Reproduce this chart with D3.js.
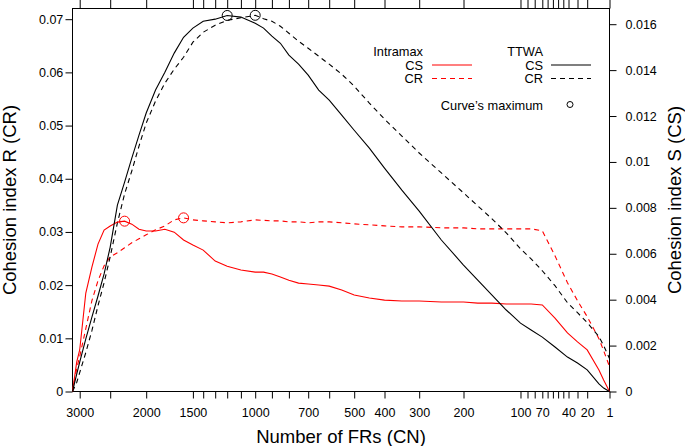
<!DOCTYPE html>
<html><head><meta charset="utf-8">
<script src="https://cdn.jsdelivr.net/npm/d3@7"></script>
<style>
body{margin:0;background:#fff}
text{font-family:"Liberation Sans",Arial,Helvetica,sans-serif;fill:#000}
</style>
</head><body>
<svg id="chart" width="685" height="446"></svg>
<script>
// ---- axis ticks ----
const xTickValues = [3000,2500,2000,1500,1400,1300,1200,1100,1000,900,800,700,600,500,400,300,200,100,90,80,70,60,55,50,45,40,30,20,1];
const xTickLabels = [3000,2000,1500,1000,700,500,400,300,200,100,70,40,20,1];
const yRTicks = [0,0.01,0.02,0.03,0.04,0.05,0.06,0.07];
const ySTicks = [0,0.002,0.004,0.006,0.008,0.01,0.012,0.014,0.016];
// non-uniform x axis: anchor values and their relative position along the axis
const xWarpN    = [3120,3000,2500,2000,1500,1400,1300,1200,1100,1000,900,800,700,600,500,400,300,200,100,90,80,70,60,55,50,45,40,30,20,1];
const xWarpFrac = [0,0.01341,0.07020,0.13724,0.22421,0.24339,0.26574,0.28808,0.31359,0.34022,0.37132,0.40298,0.43892,0.47803,0.52458,0.58101,0.64562,0.72812,0.83426,0.84730,0.86071,0.87486,0.88473,0.89460,0.90428,0.91397,0.92365,0.94041,0.95847,1];

// ---- data: number of FRs (CN) ----
const sampleN = [3120,3050,3000,2900,2800,2700,2600,2500,2400,2300,2200,2100,2000,1900,1800,1700,1600,1500,1400,1300,1200,1100,1000,950,900,850,800,750,700,650,600,550,500,450,400,350,300,250,200,175,150,125,100,85,70,53,41,30,20,10,6,1];
// TTWA
const ttwaCS = [0,0.00076,0.00128,0.00229,0.00324,0.00416,0.00512,0.00629,0.00812,0.00912,0.01017,0.01117,0.01213,0.01313,0.01391,0.01474,0.01543,0.01583,0.01613,0.01622,0.01638,0.01631,0.01604,0.01583,0.01548,0.01517,0.01465,0.01426,0.01378,0.01313,0.01269,0.01204,0.01138,0.01060,0.00973,0.00877,0.00786,0.00660,0.00551,0.00485,0.00420,0.00355,0.00298,0.00268,0.00237,0.00194,0.00150,0.00124,0.00094,0.00033,0.00015,0];
const ttwaCR = [0,0.00169,0.00356,0.00732,0.01144,0.01614,0.02045,0.02533,0.03171,0.03715,0.04146,0.04615,0.05047,0.05460,0.05797,0.06060,0.06285,0.06567,0.06754,0.06886,0.06979,0.07026,0.07073,0.07008,0.06961,0.06867,0.06736,0.06585,0.06454,0.06304,0.06154,0.05966,0.05741,0.05422,0.05122,0.04803,0.04484,0.04109,0.03734,0.03490,0.03246,0.02983,0.02683,0.02495,0.02270,0.01989,0.01670,0.01482,0.01295,0.01032,0.00863,0.00619];
// Intramax
const intraCS = [0,0.00128,0.00181,0.00429,0.00542,0.00642,0.00703,0.00721,0.00738,0.00742,0.00729,0.00707,0.00699,0.00699,0.00707,0.00694,0.00660,0.00638,0.00616,0.00568,0.00546,0.00529,0.00520,0.00520,0.00512,0.00499,0.00485,0.00472,0.00468,0.00464,0.00459,0.00442,0.00420,0.00407,0.00398,0.00394,0.00394,0.00390,0.00390,0.00385,0.00385,0.00381,0.00381,0.00381,0.00377,0.00320,0.00255,0.00216,0.00181,0.00094,0.00050,0];
const intraCR = [0,0.00432,0.00657,0.01182,0.01707,0.02083,0.02364,0.02533,0.02608,0.02702,0.02796,0.02871,0.02946,0.03039,0.03114,0.03227,0.03265,0.03227,0.03208,0.03190,0.03171,0.03190,0.03227,0.03218,0.03208,0.03208,0.03190,0.03190,0.03171,0.03190,0.03190,0.03171,0.03152,0.03133,0.03114,0.03096,0.03096,0.03077,0.03077,0.03058,0.03058,0.03058,0.03058,0.03058,0.03021,0.02552,0.02045,0.01707,0.01407,0.00994,0.00769,0.00469];

const yRMax = 0.07201, ySMax = 0.016684;

// ---- layout ----
const M = {left:72.5, right:609.5, top:8.5, bottom:391.5};
const W = M.right - M.left;
const svg = d3.select("#chart");

const x = d3.scaleLinear().domain(xWarpN).range(xWarpFrac.map(f => M.left + f*W));
const yR = d3.scaleLinear().domain([0, yRMax]).range([M.bottom, M.top]);
const yS = d3.scaleLinear().domain([0, ySMax]).range([M.bottom, M.top]);

const fmt = d3.format("~g");

// axes
const gB = svg.append("g").attr("transform",`translate(0,${M.bottom})`)
  .call(d3.axisBottom(x).tickValues(xTickValues).tickSize(7).tickPadding(9.8)
    .tickFormat(d => xTickLabels.includes(d) ? String(d) : ""));
const gT = svg.append("g").attr("transform",`translate(0,${M.top})`)
  .call(d3.axisTop(x).tickValues(xTickValues).tickSize(8.5).tickFormat(""));
const gL = svg.append("g").attr("transform",`translate(${M.left},0)`)
  .call(d3.axisLeft(yR).tickValues(yRTicks).tickSize(7).tickPadding(2.2).tickFormat(fmt));
const gR = svg.append("g").attr("transform",`translate(${M.right},0)`)
  .call(d3.axisRight(yS).tickValues(ySTicks).tickSize(7).tickPadding(9).tickFormat(fmt));
[gB,gT,gL,gR].forEach(g => {
  g.select(".domain").remove();
  g.selectAll("line").attr("stroke","#000").attr("stroke-width",1);
  g.selectAll("text").attr("font-size","12.5px").attr("font-family",'"Liberation Sans",Arial,sans-serif').attr("fill","#000");
});

// box
svg.append("rect").attr("x",M.left).attr("y",M.top).attr("width",W).attr("height",M.bottom-M.top)
  .attr("fill","none").attr("stroke","#000").attr("stroke-width",1);

// axis titles
svg.append("text").attr("x",(M.left+M.right)/2).attr("y",443).attr("text-anchor","middle")
  .attr("font-size","18.5px").text("Number of FRs (CN)");
svg.append("text").attr("transform",`translate(15.5,${(M.top+M.bottom)/2}) rotate(-90)`).attr("text-anchor","middle")
  .attr("font-size","18.5px").text("Cohesion index R (CR)");
svg.append("text").attr("transform",`translate(681,${(M.top+M.bottom)/2}) rotate(-90)`).attr("text-anchor","middle")
  .attr("font-size","18.5px").text("Cohesion index S (CS)");

// series
const series = [
  {vals: intraCR, y: yR, color:"#ff0000", dash:"5,4"},
  {vals: ttwaCR,  y: yR, color:"#000000", dash:"5,4"},
  {vals: intraCS, y: yS, color:"#ff0000", dash:null},
  {vals: ttwaCS,  y: yS, color:"#000000", dash:null}
];
const plot = svg.append("g");
series.forEach(s => {
  const pts = sampleN.map((n,i) => [n, s.vals[i]]);
  const line = d3.line().x(d => x(d[0])).y(d => s.y(d[1]));
  plot.append("path").datum(pts).attr("d", line).attr("fill","none")
    .attr("stroke", s.color).attr("stroke-width",1.1)
    .attr("stroke-dasharray", s.dash);
});
// maxima
series.forEach(s => {
  const i = d3.maxIndex(s.vals);
  plot.append("circle").attr("cx", x(sampleN[i])).attr("cy", s.y(s.vals[i])).attr("r",5)
    .attr("fill","none").attr("stroke", s.color).attr("stroke-width",1);
});

// legend
const leg = svg.append("g").attr("font-size","12.8px");
leg.append("text").attr("x",423).attr("y",55.5).attr("text-anchor","end").text("Intramax");
leg.append("text").attr("x",423).attr("y",69.5).attr("text-anchor","end").text("CS");
leg.append("text").attr("x",423).attr("y",83).attr("text-anchor","end").text("CR");
leg.append("text").attr("x",543).attr("y",55.5).attr("text-anchor","end").text("TTWA");
leg.append("text").attr("x",543).attr("y",69.5).attr("text-anchor","end").text("CS");
leg.append("text").attr("x",543).attr("y",83).attr("text-anchor","end").text("CR");
leg.append("text").attr("x",543).attr("y",109.5).attr("text-anchor","end").text("Curve\u2019s maximum");
const legLines = [
  {x1:432,x2:472,y:65,color:"#ff0000",dash:null},
  {x1:432,x2:472,y:78.5,color:"#ff0000",dash:"5,4"},
  {x1:551,x2:591,y:65,color:"#000000",dash:null},
  {x1:551,x2:591,y:78.5,color:"#000000",dash:"5,4"}
];
legLines.forEach(l => leg.append("line").attr("x1",l.x1).attr("x2",l.x2).attr("y1",l.y).attr("y2",l.y)
  .attr("stroke",l.color).attr("stroke-width",1.1).attr("stroke-dasharray",l.dash));
leg.append("circle").attr("cx",570).attr("cy",104.5).attr("r",3).attr("fill","none").attr("stroke","#000");
</script>
</body></html>
